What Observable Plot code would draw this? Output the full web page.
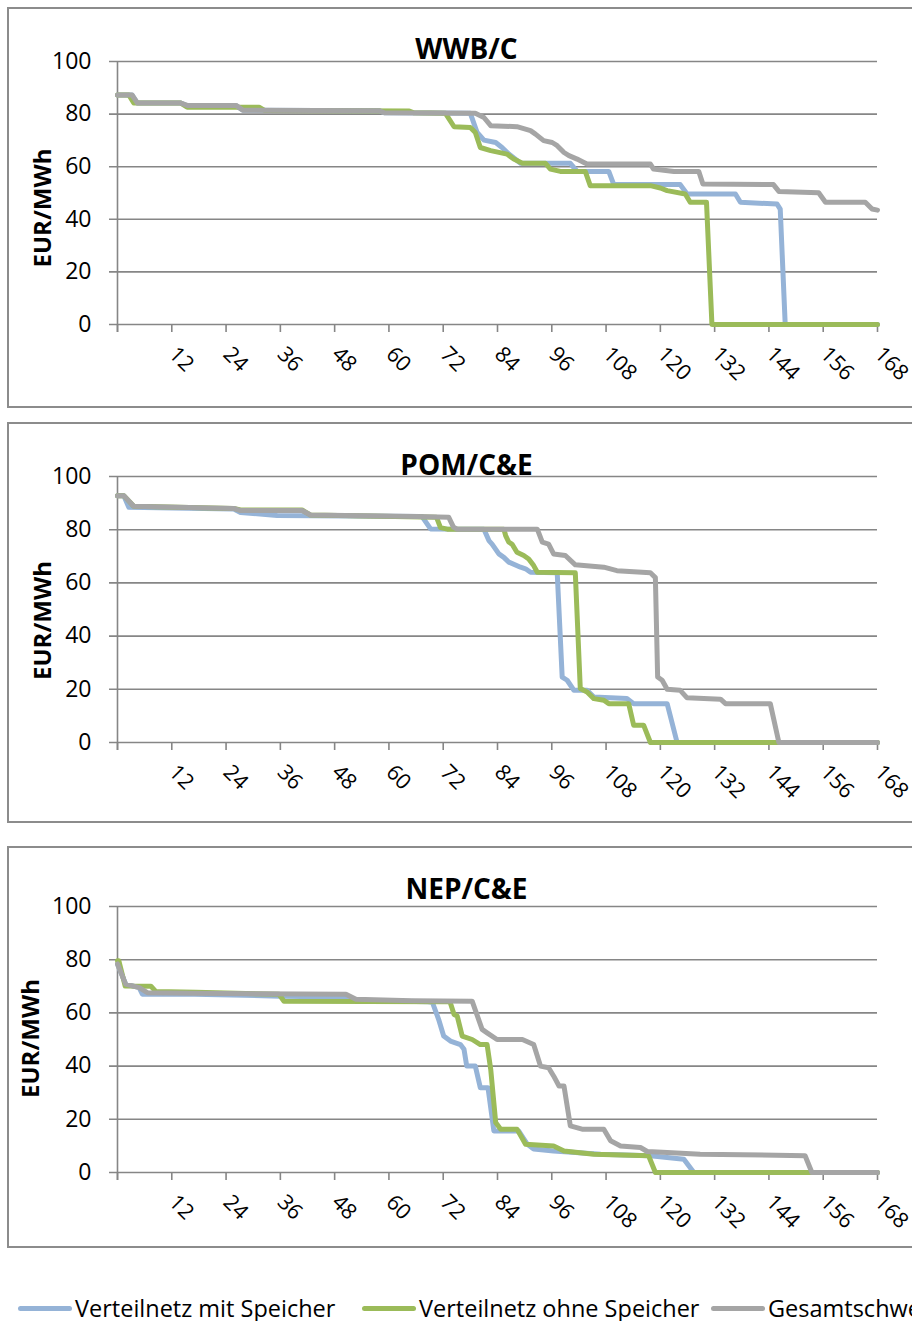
<!DOCTYPE html>
<html><head><meta charset="utf-8">
<script src="https://cdn.jsdelivr.net/npm/d3@7"></script>
<script src="https://cdn.jsdelivr.net/npm/@observablehq/plot@0.6"></script>
<style>
html,body{margin:0;padding:0;background:#fff;overflow:hidden;width:912px;height:1321px;position:relative}
.box{position:absolute;left:7px;width:940px;border:2px solid #8c8c8c;box-sizing:border-box}
.chart{position:absolute;left:0;max-width:none !important}
.leg{position:absolute;top:1296px;height:24px;line-height:24px;display:flex;align-items:center;font-family:"Open Sans",sans-serif;font-size:23.5px;white-space:nowrap;color:#000}
.sw{display:inline-block;width:54px;height:5px;border-radius:3px;margin-right:3px}
</style></head><body>
<script>
// ---------- data ----------
const seriesNames = ["Verteilnetz mit Speicher", "Verteilnetz ohne Speicher", "Gesamtschweiz"];
const seriesColors = ["#95B3D7", "#9BBB59", "#A5A5A5"];
const panelTitles = ["WWB/C", "POM/C&E", "NEP/C&E"];
const yAxisTitle = "EUR/MWh";
const xTicks = [0, 12, 24, 36, 48, 60, 72, 84, 96, 108, 120, 132, 144, 156, 168];
const xTickLabels = [12, 24, 36, 48, 60, 72, 84, 96, 108, 120, 132, 144, 156, 168];
const yTicks = [0, 20, 40, 60, 80, 100];

// [hour, EUR/MWh] break points of each duration curve
const wwbMit = [[0,87.3],[3.2,87.3],[4.4,84.2],[14,84.2],[15.4,83.2],[26.2,83.2],[27.7,81.5],[57.8,81.3],[59,80.5],[78,80.3],[79.5,73],[81,70.1],[83.6,69.2],[85,67.3],[86.5,64.8],[89.1,61.3],[100.1,61.3],[101.6,58.2],[108.6,58.2],[109.7,53.2],[124.4,53.2],[125.9,49.6],[136.6,49.6],[137.7,46.5],[145.8,45.8],[146.5,43.9],[147.6,0],[168,0]];
const wwbOhne = [[0,87.3],[2.5,87.3],[3.6,84.2],[14,84.2],[15.4,82.6],[31.3,82.6],[32.5,81.4],[64.5,81.2],[65.5,80.5],[72.5,80.3],[74.4,75.2],[78,74.9],[79.1,73],[80.2,67.3],[82.5,66.1],[86.1,64.8],[87.6,62.9],[89.5,61.3],[94.6,61.3],[95.7,59.1],[97.9,58.2],[103.4,58.2],[104.5,52.8],[117.8,52.8],[120,51.9],[121.5,50.9],[125.5,49.6],[126.6,46.5],[130.2,46.5],[131.4,0],[168,0]];
const wwbGesamt = [[0,87.3],[3.2,87.3],[4.4,84.2],[14,84.2],[15.4,83.3],[26.2,83.3],[27.7,81.5],[57.8,81.3],[59,80.5],[79.1,80.3],[81,78.7],[82.5,75.6],[88.3,75.2],[91.3,73.7],[92.4,72.4],[94.2,69.9],[96.1,69.2],[97.2,68],[98.7,65.4],[99.8,64.2],[101.6,62.9],[103.1,61.6],[103.8,61],[117.8,61],[118.5,59.1],[123,58.2],[128.5,58.2],[129.4,53.4],[145,53.2],[146.2,50.6],[155,50.1],[156.5,46.5],[165.3,46.5],[166.8,43.9],[168,43.5]];

const pomMit = [[0,92.8],[1.4,92.8],[2.5,88.4],[25.7,87.8],[27.2,86.5],[35.3,85.3],[67.3,85],[69.2,80.3],[81,80.2],[82.1,75.9],[82.8,74.6],[84.3,70.9],[85.4,69.6],[86.5,67.8],[89.1,65.9],[90.2,65.3],[91.3,64],[97.2,63.8],[98.3,24.6],[99.4,23.4],[100.9,19.6],[103.8,19.6],[105.3,17.1],[112.6,16.5],[114.1,14.6],[121.5,14.6],[123.7,0],[168,0]];
const pomOhne = [[0,92.8],[1.4,92.8],[3.6,88.8],[25.7,88],[27.2,87.4],[40.8,87.4],[42.7,85.5],[70.5,84.7],[71.4,80.8],[72.9,80.2],[85.4,80.2],[85.8,77.8],[86.5,75.3],[87.2,74.6],[88.3,71.5],[89.8,70.3],[90.9,69],[92,66.5],[92.8,64],[101.2,63.8],[102.3,20.3],[103.8,19],[105.3,16.5],[107.5,15.9],[108.6,14.6],[113,14.6],[114.1,6.5],[116.3,6.5],[117.8,0],[168,0]];
const pomGesamt = [[0,92.8],[1.4,92.8],[3.6,88.8],[25.7,88],[27.2,87.2],[40.8,87.2],[42.7,85.5],[66.2,85],[73.2,84.7],[74.3,80.9],[75.1,80.2],[92.8,80.2],[93.9,75.3],[95.3,74.6],[96.4,70.9],[99,70.3],[101.2,66.8],[107.5,65.9],[110.4,64.6],[117.8,63.8],[118.9,62],[119.4,24.6],[120.4,23.4],[121.5,20],[124.4,19.6],[125.9,16.8],[133.3,16.3],[134.4,14.6],[144.3,14.6],[146.2,0],[168,0]];

const nepMit = [[0,78.4],[1.8,70.8],[4.8,69.5],[5.5,67],[17,67],[36,66.3],[50.5,66],[52.7,64.8],[68.6,64.2],[69.6,64],[71,57.5],[72.1,51.3],[73.6,49.4],[75.8,48.1],[76.6,46.3],[77.2,40],[79.1,40],[80.2,31.9],[81.9,31.9],[83.2,15.6],[88.7,15.6],[90.6,10.6],[92,8.8],[96.4,8.1],[106.8,6.9],[117.8,6.3],[125.2,5],[127.4,0],[168,0]];
const nepOhne = [[0,79.6],[0.3,79.6],[1.7,70.1],[7.4,70],[8.5,68],[17.3,67.8],[35.7,67],[36.8,64.4],[73.5,64.2],[74.4,59.4],[75.1,58.8],[76.2,51.3],[78.4,50],[80.2,48.1],[81.7,48.1],[82.5,38.8],[83.6,18.8],[84.7,16.3],[88.3,16.3],[90.2,10.6],[96.4,10],[98.7,8.1],[105.3,6.9],[117.4,6.3],[118.9,0],[168,0]];
const nepGesamt = [[0,78.4],[1.8,70.8],[4.8,69.5],[6.6,67.6],[17,67.4],[50.5,67],[52.7,65.1],[65,64.6],[78.4,64.4],[80.6,53.8],[81.7,52.5],[83.9,50],[89.5,50],[92,48.1],[93.5,40],[95.3,39.4],[96.4,36.3],[97.6,32.5],[98.7,32.5],[100.1,17.5],[102.7,16.3],[107.5,16.3],[109,11.9],[111.2,10],[115.6,9.4],[117.1,7.9],[121.5,7.5],[128.8,6.9],[152,6.3],[153.5,0],[168,0]];

// ---------- layout ----------
const FONT = '"Open Sans", sans-serif';
const GRID = "#868686";
const panels = [
  {title: panelTitles[0], series: [wwbMit, wwbOhne, wwbGesamt], top: 0, height: 410, mt: 61, mb: 86, titleDy: -3, ylDx: -84, ylDy: 146.5, boxTop: 7, boxH: 401},
  {title: panelTitles[1], series: [pomMit, pomOhne, pomGesamt], top: 415, height: 415, mt: 61, mb: 88, titleDy: -2, ylDx: -84, ylDy: 144, boxTop: 422, boxH: 401},
  {title: panelTitles[2], series: [nepMit, nepOhne, nepGesamt], top: 840, height: 410, mt: 66, mb: 78, titleDy: -8, ylDx: -96, ylDy: 132, boxTop: 846, boxH: 402}
];

for (const p of panels) {
  const box = document.createElement("div");
  box.className = "box";
  box.style.top = p.boxTop + "px";
  box.style.height = p.boxH + "px";
  document.body.appendChild(box);

  const lineMarks = p.series.map((s, i) =>
    Plot.line(s.map(([h, v]) => ({h, v})), {
      x: "h", y: "v", stroke: seriesColors[i], strokeWidth: 5,
      strokeLinejoin: "round", strokeLinecap: "round"
    })
  );

  const svg = Plot.plot({
    width: 940, height: p.height,
    marginLeft: 117, marginRight: 63, marginTop: p.mt, marginBottom: p.mb,
    x: {domain: [0, 168], axis: null},
    y: {domain: [0, 100], axis: null},
    style: {fontFamily: FONT, background: "transparent", overflow: "visible", color: "#000", maxWidth: "none"},
    marks: [
      Plot.ruleY(yTicks, {y: d => d, stroke: GRID, strokeWidth: 1.6, insetLeft: -8}),
      Plot.ruleX([0], {x: d => d, stroke: GRID, strokeWidth: 1.6, insetBottom: -8}),
      Plot.ruleX(xTicks, {x: d => d, y1: 0, y2: 0, insetBottom: -8, stroke: GRID, strokeWidth: 1.6}),
      Plot.text(yTicks, {y: d => d, text: d => String(d), frameAnchor: "left", textAnchor: "end", dx: -26, fontSize: 23, fill: "#000"}),
      Plot.text(xTickLabels, {x: d => d, text: d => String(d), frameAnchor: "bottom", rotate: 45, textAnchor: "start", dx: -4, dy: 31, fontSize: 21.5, fill: "#000"}),
      ...lineMarks,
      Plot.text([p.title], {text: d => d, frameAnchor: "top-left", dx: 349, dy: p.titleDy, textAnchor: "middle", lineAnchor: "bottom", fontSize: 28, fontWeight: "bold", fill: "#000"}),
      Plot.text([yAxisTitle], {text: d => d, frameAnchor: "top-left", dx: p.ylDx, dy: p.ylDy, rotate: -90, textAnchor: "middle", fontSize: 24, fontWeight: "bold", fill: "#000"})
    ]
  });
  svg.classList.add("chart");
  svg.style.top = p.top + "px";
  svg.style.maxWidth = "none";
  svg.style.width = "940px";
  document.body.appendChild(svg);
}

// ---------- legend ----------
const legendLeft = [18, 362, 711];
seriesNames.forEach((name, i) => {
  const d = document.createElement("div");
  d.className = "leg";
  d.style.left = legendLeft[i] + "px";
  const sw = document.createElement("span");
  sw.className = "sw";
  sw.style.background = seriesColors[i];
  const t = document.createElement("span");
  t.textContent = name;
  d.appendChild(sw); d.appendChild(t);
  document.body.appendChild(d);
});
</script>
</body></html>
